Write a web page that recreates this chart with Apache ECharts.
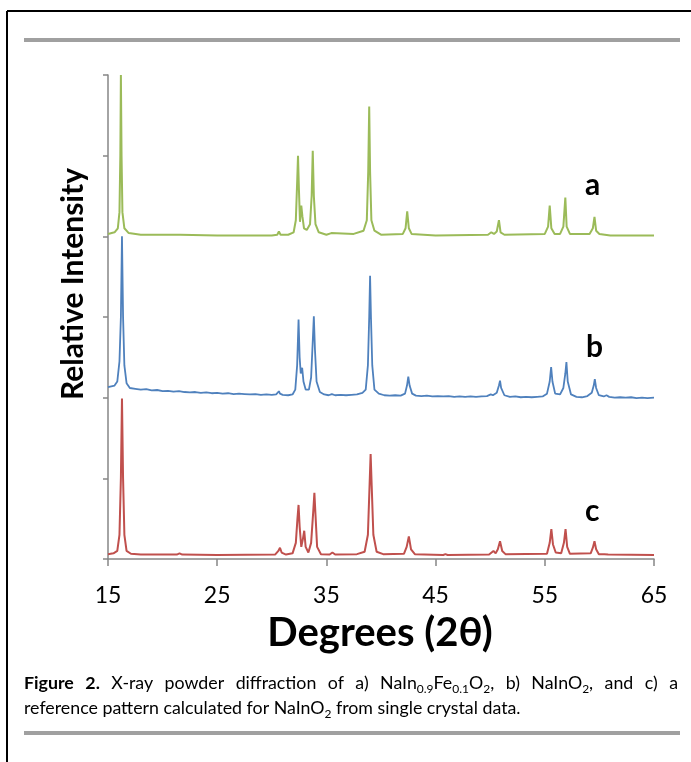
<!DOCTYPE html>
<html>
<head>
<meta charset="utf-8">
<script src="https://cdn.jsdelivr.net/npm/echarts@6/dist/echarts.min.js"></script>
<style>
html,body{margin:0;padding:0;background:#fff;}
#chart{width:691px;height:762px;}
</style>
</head>
<body>
<div id="chart"></div>
<script>
// X tick labels (2θ degrees)
var xTicks = [15, 25, 35, 45, 55, 65];
var seriesNames = ['a', 'b', 'c'];
var xTitle = 'Degrees (2θ)';
var yTitle = 'Relative Intensity';

// a) NaIn0.9Fe0.1O2 (offset pattern, green)
var patternA = [
  [15.0,4.03],[15.6,4.05],[15.9,4.10],[16.05,4.3],[16.13,5.0],[16.18,6.0],[16.24,5.0],[16.32,4.3],[16.5,4.1],[16.9,4.04],
  [18,4.02],[21.6,4.02],[25,4.01],[30.0,4.01],[30.5,4.02],[30.65,4.06],[30.8,4.02],[31.5,4.02],[32.0,4.05],[32.2,4.2],
  [32.33,4.7],[32.4,5.0],[32.48,4.6],[32.58,4.18],[32.7,4.38],[32.8,4.25],[32.95,4.1],[33.2,4.08],[33.5,4.15],[33.65,4.5],
  [33.75,5.06],[33.85,4.5],[34.0,4.15],[34.3,4.05],[35.0,4.02],[35.45,4.04],[35.6,4.02],[37.5,4.03],[38.4,4.07],[38.7,4.2],
  [38.83,4.8],[38.92,5.61],[39.0,4.8],[39.12,4.2],[39.4,4.07],[40,4.02],[42.0,4.03],[42.25,4.1],[42.4,4.31],[42.55,4.1],
  [42.8,4.03],[45,4.01],[49.8,4.02],[50.1,4.05],[50.35,4.03],[50.6,4.06],[50.8,4.2],[50.95,4.05],[51.3,4.02],[55.0,4.03],
  [55.3,4.12],[55.45,4.38],[55.6,4.1],[55.9,4.03],[56.4,4.03],[56.7,4.12],[56.88,4.48],[57.0,4.12],[57.3,4.03],[59.1,4.03],
  [59.4,4.1],[59.55,4.24],[59.7,4.07],[60.0,4.03],[60.5,4.02],[60.65,4.03],[61,4.01],[65,4.01]
];

// b) NaInO2 measured (offset pattern, blue)
var patternB = [
  [15.0,2.13],[15.3,2.14],[15.6,2.15],[15.85,2.2],[16.05,2.45],[16.18,3.0],[16.28,4.0],[16.38,3.0],[16.5,2.4],[16.7,2.18],
  [17.0,2.12],[17.5,2.11],[18.0,2.10],[18.5,2.105],[19.0,2.09],[19.5,2.095],[20.0,2.08],[20.5,2.085],[21.0,2.075],[21.5,2.08],
  [22.0,2.07],[22.5,2.065],[23.0,2.07],[23.5,2.06],[24.0,2.065],[24.5,2.055],[25.0,2.06],[25.5,2.05],[26.0,2.055],[26.5,2.045],
  [27.0,2.05],[27.5,2.045],[28.0,2.04],[28.5,2.045],[29.0,2.035],[29.5,2.04],[30.0,2.035],[30.4,2.04],[30.55,2.06],[30.65,2.08],
  [30.75,2.05],[31.0,2.035],[31.5,2.03],[31.9,2.04],[32.15,2.1],[32.32,2.4],[32.45,2.97],[32.55,2.5],[32.65,2.3],[32.78,2.37],
  [32.9,2.2],[33.1,2.1],[33.4,2.1],[33.6,2.25],[33.75,2.7],[33.85,3.01],[33.95,2.6],[34.1,2.2],[34.4,2.07],[34.8,2.04],
  [35.2,2.03],[35.5,2.045],[35.8,2.03],[36.3,2.035],[36.8,2.03],[37.3,2.035],[37.8,2.04],[38.3,2.06],[38.6,2.1],[38.8,2.4],
  [38.92,3.0],[39.0,3.51],[39.08,3.0],[39.2,2.4],[39.4,2.1],[39.8,2.05],[40.3,2.03],[40.8,2.025],[41.3,2.03],[41.8,2.025],
  [42.2,2.05],[42.38,2.15],[42.5,2.26],[42.62,2.15],[42.85,2.05],[43.2,2.025],[43.7,2.02],[44.2,2.025],[44.7,2.015],[45.2,2.02],
  [45.7,2.015],[46.2,2.02],[46.7,2.01],[47.2,2.015],[47.7,2.01],[48.2,2.015],[48.7,2.01],[49.2,2.015],[49.7,2.02],[50.05,2.04],
  [50.25,2.03],[50.6,2.06],[50.8,2.15],[50.9,2.21],[51.0,2.12],[51.3,2.03],[51.8,2.01],[52.3,2.015],[52.8,2.005],[53.3,2.01],
  [53.8,2.005],[54.3,2.01],[54.8,2.015],[55.2,2.05],[55.45,2.2],[55.58,2.38],[55.7,2.2],[55.95,2.05],[56.4,2.04],[56.7,2.12],
  [56.88,2.3],[56.98,2.44],[57.1,2.2],[57.4,2.04],[57.9,2.01],[58.4,2.005],[58.9,2.02],[59.3,2.06],[59.48,2.15],[59.58,2.23],
  [59.7,2.12],[59.95,2.03],[60.4,2.015],[60.65,2.03],[60.9,2.01],[61.4,2.0],[61.9,2.005],[62.4,2.0],[62.9,2.005],[63.4,1.995],
  [63.9,2.0],[64.4,1.995],[65.0,2.0]
];

// c) NaInO2 calculated reference (red)
var patternC = [
  [15.0,0.06],[15.5,0.07],[15.85,0.1],[16.05,0.3],[16.18,1.0],[16.28,1.99],[16.38,1.0],[16.5,0.3],[16.7,0.1],[17.1,0.065],
  [18,0.055],[21.3,0.055],[21.55,0.07],[21.8,0.055],[25,0.05],[30.3,0.055],[30.6,0.1],[30.75,0.14],[30.9,0.08],[31.3,0.055],
  [31.9,0.07],[32.2,0.2],[32.35,0.5],[32.45,0.67],[32.55,0.4],[32.7,0.15],[32.85,0.25],[32.97,0.35],[33.1,0.15],[33.35,0.08],
  [33.6,0.2],[33.8,0.6],[33.9,0.82],[34.0,0.55],[34.15,0.15],[34.5,0.06],[35.3,0.055],[35.55,0.08],[35.8,0.055],[37.8,0.06],
  [38.5,0.09],[38.8,0.3],[38.95,0.9],[39.05,1.3],[39.15,0.9],[39.3,0.3],[39.6,0.09],[40.2,0.06],[42.1,0.065],[42.35,0.15],
  [42.55,0.28],[42.75,0.12],[43.1,0.06],[45.7,0.05],[45.9,0.06],[46.1,0.05],[49.9,0.055],[50.3,0.1],[50.5,0.07],[50.7,0.12],
  [50.9,0.22],[51.1,0.1],[51.4,0.06],[55.2,0.065],[55.45,0.2],[55.6,0.37],[55.75,0.18],[55.85,0.2],[56.0,0.08],[56.5,0.07],
  [56.75,0.2],[56.9,0.37],[57.05,0.15],[57.3,0.065],[59.2,0.07],[59.4,0.14],[59.55,0.22],[59.7,0.12],[59.95,0.06],[60.45,0.06],
  [60.6,0.08],[60.8,0.055],[65,0.05]
];

// Caption words (line 1 is justified across the column)
var captionWords1 = ['{b|Figure}', '{b|2.}', 'X-ray', 'powder', 'diffraction', 'of', 'a)',
  'NaIn{s|0.9}Fe{s|0.1}O{s|2},', 'b)', 'NaInO{s|2},', 'and', 'c)', 'a'];
var captionLine2 = 'reference pattern calculated for NaInO{s|2} from single crystal data.';

var FONT = 'Lato';
var CAP_SIZE = 17.8, SUB_SIZE = 12;
var capRich = {
  b: {fontWeight: 'bold', fontSize: CAP_SIZE, fontFamily: FONT, color: '#000', lineHeight: 23},
  s: {fontSize: SUB_SIZE, fontFamily: FONT, color: '#000', verticalAlign: 'bottom', lineHeight: 23}
};

// measure rich-text word widths for justification
var mctx = document.createElement('canvas').getContext('2d');
function wordWidth(w) {
  var re = /\{(\w)\|([^}]*)\}/g, last = 0, m, total = 0;
  function add(txt, style) {
    if (!txt) return;
    if (style === 'b') mctx.font = 'bold ' + CAP_SIZE + 'px ' + FONT;
    else if (style === 's') mctx.font = SUB_SIZE + 'px ' + FONT;
    else mctx.font = CAP_SIZE + 'px ' + FONT;
    total += mctx.measureText(txt).width;
  }
  while ((m = re.exec(w)) !== null) {
    add(w.slice(last, m.index), null);
    add(m[2], m[1]);
    last = re.lastIndex;
  }
  add(w.slice(last), null);
  return total;
}
var capLeft = 24, capRight = 678;
var widths = captionWords1.map(wordWidth);
var sumW = widths.reduce(function (a, b) { return a + b; }, 0);
var gap = (capRight - capLeft - sumW) / (captionWords1.length - 1);

var graphics = [
  {type: 'line', shape: {x1: 7, y1: 11, x2: 691, y2: 11}, style: {stroke: '#000', lineWidth: 2}},
  {type: 'line', shape: {x1: 7, y1: 11, x2: 7, y2: 762}, style: {stroke: '#000', lineWidth: 2}},
  {type: 'rect', shape: {x: 24, y: 38, width: 656, height: 4}, style: {fill: '#a0a0a0'}},
  {type: 'rect', shape: {x: 24, y: 731, width: 656, height: 4}, style: {fill: '#a0a0a0'}},
  {type: 'text', left: 585, top: 170, style: {text: seriesNames[0], fontFamily: FONT, fontWeight: 'bold', fontSize: 30, fill: '#000'}},
  {type: 'text', left: 586, top: 332, style: {text: seriesNames[1], fontFamily: FONT, fontWeight: 'bold', fontSize: 30, fill: '#000'}},
  {type: 'text', left: 585, top: 496, style: {text: seriesNames[2], fontFamily: FONT, fontWeight: 'bold', fontSize: 30, fill: '#000'}},
  {type: 'text', x: 73, y: 284, rotation: Math.PI / 2,
    style: {text: yTitle, fontFamily: FONT, fontWeight: 'bold', fontSize: 30, fill: '#000', align: 'center', verticalAlign: 'middle'}},
  {type: 'text', x: 380, y: 633,
    style: {text: xTitle, fontFamily: FONT, fontWeight: 'bold', fontSize: 40, fill: '#000', align: 'center', verticalAlign: 'middle'}}
];
var cx = capLeft;
captionWords1.forEach(function (w, i) {
  graphics.push({type: 'text', x: cx, y: 672,
    style: {text: w, rich: capRich, fontFamily: FONT, fontSize: CAP_SIZE, fill: '#000', lineHeight: 23, align: 'left', verticalAlign: 'top'}});
  cx += widths[i] + gap;
});
graphics.push({type: 'text', x: 24, y: 697,
  style: {text: captionLine2, rich: capRich, fontFamily: FONT, fontSize: CAP_SIZE, fill: '#000', lineHeight: 23, align: 'left', verticalAlign: 'top'}});

var chart = echarts.init(document.getElementById('chart'), null, {renderer: 'canvas'});
var axisGray = '#868686';

chart.setOption({
  animation: false,
  backgroundColor: '#ffffff',
  grid: {left: 108, right: 37, top: 75, bottom: 203, containLabel: false},
  xAxis: {
    type: 'value', min: 15, max: 65, interval: 10,
    axisLine: {lineStyle: {color: axisGray, width: 1.5}},
    axisTick: {length: 7, lineStyle: {color: axisGray, width: 1.5}},
    axisLabel: {fontFamily: FONT, fontSize: 23, color: '#000', margin: 25,
      formatter: function (v) { return xTicks.indexOf(v) >= 0 ? String(v) : ''; }},
    splitLine: {show: false}
  },
  yAxis: {
    type: 'value', min: 0, max: 6, interval: 1,
    axisLine: {show: true, lineStyle: {color: axisGray, width: 1.5}},
    axisTick: {show: true, length: 5, lineStyle: {color: axisGray, width: 1.5}},
    axisLabel: {show: false},
    splitLine: {show: false}
  },
  series: [
    {name: seriesNames[0], type: 'line', data: patternA, showSymbol: false, smooth: false,
      lineStyle: {color: '#9bbb59', width: 2}, z: 3},
    {name: seriesNames[1], type: 'line', data: patternB, showSymbol: false, smooth: false,
      lineStyle: {color: '#4f81bd', width: 1.8}, z: 2},
    {name: seriesNames[2], type: 'line', data: patternC, showSymbol: false, smooth: false,
      lineStyle: {color: '#c0504d', width: 2}, z: 1}
  ],
  graphic: graphics
});
</script>
</body>
</html>
